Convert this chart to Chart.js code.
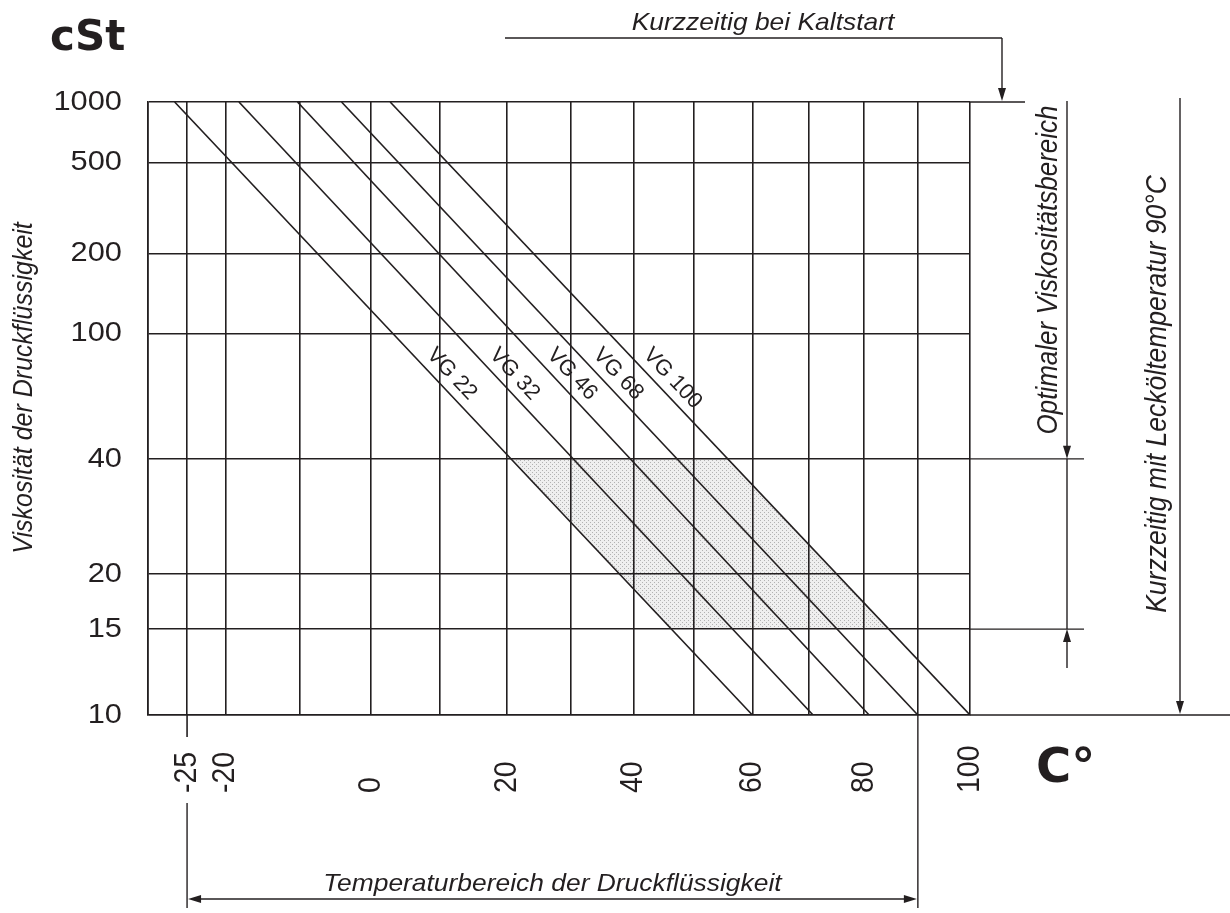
<!DOCTYPE html>
<html>
<head>
<meta charset="utf-8">
<script src="https://cdn.jsdelivr.net/npm/chart.js@4/dist/chart.umd.min.js"></script>
<style>
  html, body { margin: 0; padding: 0; background: #ffffff; }
  canvas { display: block; }
</style>
</head>
<body>
<canvas id="chart" width="1230" height="913"></canvas>
<script>
// ---------------- data ----------------
const temperatureGrid = [-30, -25, -20, -10, 0, 10, 20, 30, 40, 50, 60, 70, 80, 90, 100];
const temperatureLabels = [-25, -20, 0, 20, 40, 60, 80, 100];
const viscosityGrid = [1000, 500, 200, 100, 40, 20, 15, 10];
const viscosityLabels = [1000, 500, 200, 100, 40, 20, 15, 10];
const grades = ['VG 22', 'VG 32', 'VG 46', 'VG 68', 'VG 100'];
const gradeTempAt1000cSt = [-26.6, -18.2, -10.3, -4.2, 2.7];
const gradeTempAt10cSt = [60, 70.7, 80.9, 90, 100];
const optimalViscosity = [15, 40];
const fluidTemperatureRange = [-25, 90];
const gradeLabelViscosity = 80;

// ---------------- Ubbelohde / Walther scales ----------------
const walther = v => Math.log10(Math.log10(v + 0.7));
const waltherInv = w => Math.pow(10, Math.pow(10, w)) - 0.7;
const kelvinLog = t => Math.log10(t + 273.15);
const kelvinLogInv = k => Math.pow(10, k) - 273.15;

class TransformScale extends Chart.Scale {
  determineDataLimits() { this.min = this.options.min; this.max = this.options.max; }
  getLabelForValue(v) { return String(v); }
  getPixelForValue(v) {
    const c = this.constructor, a = c.fwd(this.min), b = c.fwd(this.max);
    return this.getPixelForDecimal((c.fwd(v) - a) / (b - a));
  }
  getValueForPixel(p) {
    const c = this.constructor, a = c.fwd(this.min), b = c.fwd(this.max);
    return c.inv(a + this.getDecimalForPixel(p) * (b - a));
  }
}
class ViscosityScale extends TransformScale {
  static id = 'walther';
  static defaults = {};
  static fwd = walther;
  static inv = waltherInv;
  buildTicks() { return viscosityGrid.map(v => ({ value: v })); }
}
class TemperatureScale extends TransformScale {
  static id = 'kelvinlog';
  static defaults = {};
  static fwd = kelvinLog;
  static inv = kelvinLogInv;
  buildTicks() { return temperatureGrid.map(v => ({ value: v })); }
}
Chart.register(ViscosityScale, TemperatureScale);

// ---------------- drawing helpers ----------------
const INK = '#231f20';
const SX = 1.1;
const FAM = '"Liberation Sans", Arial, Helvetica, sans-serif';
const italic = s => `italic ${s}px ${FAM}`;
const regular = s => `${s}px ${FAM}`;

function drawText(ctx, str, x, y, font, align, baseline, rot, sx) {
  ctx.save();
  ctx.translate(x, y);
  ctx.scale(sx, 1);
  ctx.rotate(rot);
  ctx.font = font;
  ctx.textAlign = align;
  ctx.textBaseline = baseline;
  ctx.fillStyle = INK;
  ctx.fillText(str, 0, 0);
  ctx.restore();
}
function seg(ctx, x1, y1, x2, y2, w) {
  ctx.beginPath();
  ctx.lineWidth = w || 1.4;
  ctx.strokeStyle = INK;
  ctx.moveTo(x1, y1);
  ctx.lineTo(x2, y2);
  ctx.stroke();
}
function head(ctx, x, y, dx, dy) {
  const L = 13, H = 4;
  ctx.beginPath();
  ctx.fillStyle = INK;
  ctx.moveTo(x, y);
  ctx.lineTo(x - dx * L - dy * H, y - dy * L + dx * H);
  ctx.lineTo(x - dx * L + dy * H, y - dy * L - dx * H);
  ctx.closePath();
  ctx.fill();
}
function dotPattern(ctx) {
  const pc = document.createElement('canvas');
  pc.width = 4; pc.height = 4;
  const p = pc.getContext('2d');
  p.fillStyle = '#efefef'; p.fillRect(0, 0, 4, 4);
  p.fillStyle = '#b2b2b2';
  p.fillRect(0, 0, 1, 1); p.fillRect(2, 2, 1, 1);
  return ctx.createPattern(pc, 'repeat');
}

// ---------------- decoration plugin ----------------
const decor = {
  id: 'viscosityDecor',
  beforeDraw(chart) {
    const ctx = chart.ctx, xs = chart.scales.x, ys = chart.scales.y;
    const crossing = (i, v) => {
      const x1 = xs.getPixelForValue(gradeTempAt1000cSt[i]), y1 = ys.getPixelForValue(1000);
      const x2 = xs.getPixelForValue(gradeTempAt10cSt[i]), y2 = ys.getPixelForValue(10);
      const y = ys.getPixelForValue(v);
      return [x1 + (x2 - x1) * (y - y1) / (y2 - y1), y];
    };
    const last = grades.length - 1;
    const pts = [crossing(0, optimalViscosity[1]), crossing(last, optimalViscosity[1]),
                 crossing(last, optimalViscosity[0]), crossing(0, optimalViscosity[0])];
    ctx.save();
    ctx.beginPath();
    pts.forEach((p, i) => i ? ctx.lineTo(p[0], p[1]) : ctx.moveTo(p[0], p[1]));
    ctx.closePath();
    ctx.fillStyle = dotPattern(ctx);
    ctx.fill();
    ctx.restore();
  },
  afterDatasetsDraw(chart) {
    const ctx = chart.ctx, ys = chart.scales.y;
    grades.forEach((g, i) => {
      const d = chart.getDatasetMeta(i).data;
      const p0 = d[0], p1 = d[1];
      const ang = Math.atan2(p1.y - p0.y, p1.x - p0.x);
      const y = ys.getPixelForValue(gradeLabelViscosity);
      const x = p0.x + (p1.x - p0.x) * (y - p0.y) / (p1.y - p0.y);
      ctx.save();
      ctx.translate(x, y);
      ctx.rotate(ang);
      ctx.font = regular(22);
      ctx.fillStyle = INK;
      ctx.textAlign = 'left';
      ctx.textBaseline = 'alphabetic';
      ctx.fillText(g, 0, -9);
      ctx.restore();
    });
  },
  afterDraw(chart) {
    const ctx = chart.ctx, xs = chart.scales.x, ys = chart.scales.y;
    const area = chart.chartArea;
    const R = area.right, B = area.bottom;
    const yTop = ys.getPixelForValue(1000);
    const yHi = ys.getPixelForValue(optimalViscosity[1]);
    const yLo = ys.getPixelForValue(optimalViscosity[0]);
    ctx.save();

    // tick labels
    viscosityLabels.forEach(v => drawText(ctx, String(v), 122, ys.getPixelForValue(v), regular(28), 'right', 'middle', 0, SX));
    temperatureLabels.forEach(t => drawText(ctx, String(t), xs.getPixelForValue(t), B + 78, regular(28.5), 'left', 'middle', -Math.PI / 2, SX));

    // unit labels
    drawText(ctx, 'cSt', 50, 50, 'bold 42px "DejaVu Sans", sans-serif', 'left', 'alphabetic', 0, 1);
    drawText(ctx, 'C°', 1036, 782, 'bold 48px "DejaVu Sans", sans-serif', 'left', 'alphabetic', 0, 1);

    // axis title
    drawText(ctx, 'Viskosität der Druckflüssigkeit', 31.5, 388, italic(25), 'center', 'alphabetic', -Math.PI / 2, SX);

    // extensions of grid lines
    seg(ctx, R, yTop, R + 55, yTop, 1.6);
    seg(ctx, R, yHi, R + 114, yHi, 1.4);
    seg(ctx, R, yLo, R + 114, yLo, 1.4);
    seg(ctx, R, B, chart.width, B, 1.6);

    // cold start
    drawText(ctx, 'Kurzzeitig bei Kaltstart', 763, 30, italic(24), 'center', 'alphabetic', 0, SX);
    seg(ctx, 505, 38, 1002, 38);
    seg(ctx, 1002, 38, 1002, yTop - 8);
    head(ctx, 1002, yTop - 1, 0, 1);

    // optimal viscosity range
    drawText(ctx, 'Optimaler Viskositätsbereich', 1057, 270, italic(26), 'center', 'alphabetic', -Math.PI / 2, SX);
    seg(ctx, 1067, yTop - 1, 1067, yHi - 8);
    head(ctx, 1067, yHi, 0, 1);
    seg(ctx, 1067, yHi, 1067, yLo);
    seg(ctx, 1067, yLo + 39, 1067, yLo + 8);
    head(ctx, 1067, yLo, 0, -1);

    // leak oil temperature
    drawText(ctx, 'Kurzzeitig mit Lecköltemperatur 90°C', 1166, 394, italic(26.5), 'center', 'alphabetic', -Math.PI / 2, SX);
    seg(ctx, 1180, yTop - 4, 1180, B - 8);
    head(ctx, 1180, B - 1, 0, 1);

    // fluid temperature range
    const xa = xs.getPixelForValue(fluidTemperatureRange[0]);
    const xb = xs.getPixelForValue(fluidTemperatureRange[1]);
    seg(ctx, xa, B, xa, B + 22, 1.6);
    seg(ctx, xa, B + 88, xa, 908, 1.4);
    seg(ctx, xb, B, xb, 908, 1.4);
    seg(ctx, xa + 8, 899, xb - 8, 899);
    head(ctx, xa + 1, 899, -1, 0);
    head(ctx, xb - 1, 899, 1, 0);
    drawText(ctx, 'Temperaturbereich der Druckflüssigkeit', (xa + xb) / 2, 891, italic(24), 'center', 'alphabetic', 0, SX);

    ctx.restore();
  }
};

// ---------------- chart ----------------
const datasets = grades.map((g, i) => ({
  label: g,
  data: [{ x: gradeTempAt1000cSt[i], y: 1000 }, { x: gradeTempAt10cSt[i], y: 10 }],
  borderColor: INK,
  borderWidth: 1.6,
  pointRadius: 0,
  fill: false,
  tension: 0
}));

const axisStyle = {
  grid: { color: INK, lineWidth: 1.6, drawTicks: false },
  border: { color: INK, width: 1.6 },
  ticks: { display: false },
  title: { display: false }
};

new Chart(document.getElementById('chart'), {
  type: 'line',
  data: { datasets },
  options: {
    responsive: false,
    animation: false,
    events: [],
    layout: { padding: { left: 148, right: 260, top: 102, bottom: 198 } },
    plugins: { legend: { display: false }, tooltip: { enabled: false } },
    scales: {
      x: Object.assign({ type: 'kelvinlog', position: 'bottom', min: -30, max: 100 }, axisStyle),
      y: Object.assign({ type: 'walther', position: 'left', min: 10, max: 1000 }, axisStyle)
    }
  },
  plugins: [decor]
});
</script>
</body>
</html>
